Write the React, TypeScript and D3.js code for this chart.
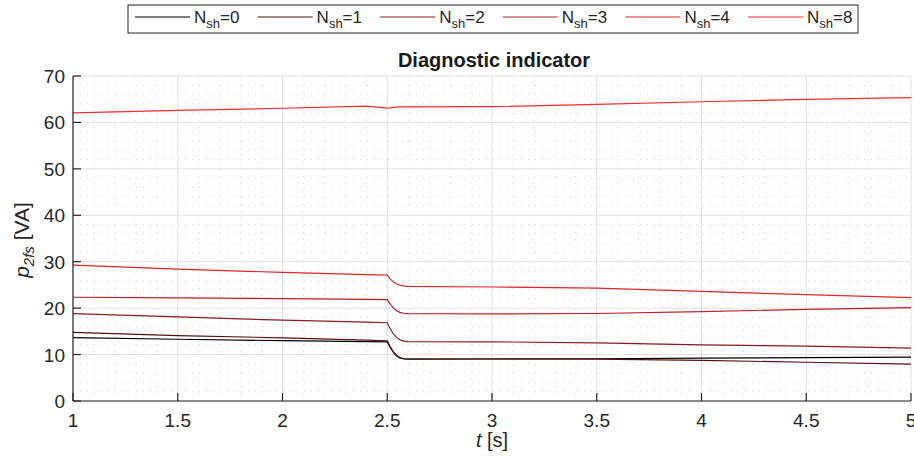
import React from 'react';
import * as d3 from 'd3';

// sample times [s]
const times = [1, 1.5, 2, 2.4, 2.5, 2.515, 2.53, 2.545, 2.56, 2.58, 2.6, 3, 3.5, 4, 4.5, 5];

const nsh0 = [13.65, 13.3, 13.0, 12.8, 12.75, 11.5, 10.4, 9.7, 9.3, 9.05, 9.0, 9.05, 9.1, 9.25, 9.35, 9.45];
const nsh1 = [14.8, 14.1, 13.6, 13.1, 12.95, 11.6, 10.5, 9.8, 9.35, 9.1, 9.05, 9.05, 9.0, 8.75, 8.35, 7.95];
const nsh2 = [18.8, 18.1, 17.4, 17.0, 16.85, 15.5, 14.4, 13.7, 13.2, 12.9, 12.8, 12.75, 12.5, 12.1, 11.8, 11.4];
const nsh3 = [22.35, 22.2, 22.05, 21.9, 21.85, 20.8, 20.0, 19.45, 19.1, 18.9, 18.8, 18.75, 18.85, 19.25, 19.75, 20.1];
const nsh4 = [29.25, 28.4, 27.7, 27.2, 27.1, 26.25, 25.65, 25.2, 24.95, 24.75, 24.7, 24.55, 24.3, 23.6, 22.9, 22.25];
const nsh8 = [62.05, 62.6, 63.05, 63.5, 63.1, 63.15, 63.25, 63.3, 63.33, 63.35, 63.35, 63.4, 63.9, 64.45, 64.95, 65.35];

const seriesLabels = ['0', '1', '2', '3', '4', '8'];
const seriesValues = [nsh0, nsh1, nsh2, nsh3, nsh4, nsh8];
const seriesColors = ['#000000', '#561010', '#8c1a1a', '#bd2020', '#e02626', '#ff2b2b'];

const xTicks = [1, 1.5, 2, 2.5, 3, 3.5, 4, 4.5, 5];
const yTicks = [0, 10, 20, 30, 40, 50, 60, 70];

const W = 914;
const H = 456;
const FONT = 'Arial, "Liberation Sans", Helvetica, sans-serif';

export default function App() {
  const x = d3.scaleLinear().domain([1, 5]).range([73, 911]);
  const y = d3.scaleLinear().domain([0, 70]).range([401, 76]);

  const line = d3.line<number>()
    .x((_, i) => x(times[i]))
    .y(d => y(d));

  const minorX = d3.range(10, 51).map(v => v / 10).filter(v => !xTicks.includes(v));
  const minorY = d3.range(0, 71, 2).filter(v => !yTicks.includes(v));

  const legendX = 128;
  const legendStep = 122.6;

  return (
    <svg width={W} height={H} style={{ position: 'absolute', left: 0, top: 0, background: '#fff' }}
      fontFamily={FONT}>
      {/* minor grid */}
      <g stroke="#d6d6d6" strokeWidth={1} strokeDasharray="1,6">
        {minorX.map(v => (
          <line key={'mx' + v} x1={x(v)} x2={x(v)} y1={y(0)} y2={y(70)} />
        ))}
        {minorY.map(v => (
          <line key={'my' + v} x1={x(1)} x2={x(5)} y1={y(v)} y2={y(v)} />
        ))}
      </g>
      {/* major grid */}
      <g stroke="#e0e0e0" strokeWidth={1}>
        {xTicks.map(v => (
          <line key={'gx' + v} x1={x(v)} x2={x(v)} y1={y(0)} y2={y(70)} />
        ))}
        {yTicks.map(v => (
          <line key={'gy' + v} x1={x(1)} x2={x(5)} y1={y(v)} y2={y(v)} />
        ))}
      </g>

      {/* data lines */}
      <g fill="none" strokeWidth={1.2}>
        {seriesValues.map((vals, i) => (
          <path key={i} d={line(vals) || ''} stroke={seriesColors[i]} />
        ))}
      </g>

      {/* axes */}
      <g stroke="#262626" strokeWidth={1.2}>
        <line x1={x(1)} x2={x(1)} y1={y(0)} y2={y(70)} />
        <line x1={x(1)} x2={x(5)} y1={y(0)} y2={y(0)} />
        {xTicks.map(v => (
          <line key={'tx' + v} x1={x(v)} x2={x(v)} y1={y(0)} y2={y(0) - 8} />
        ))}
        {yTicks.map(v => (
          <line key={'ty' + v} x1={x(1)} x2={x(1) + 8} y1={y(v)} y2={y(v)} />
        ))}
      </g>
      <g fill="#262626" fontSize={19}>
        {xTicks.map(v => (
          <text key={'lx' + v} x={x(v)} y={y(0) + 26} textAnchor="middle">{String(v)}</text>
        ))}
        {yTicks.map(v => (
          <text key={'ly' + v} x={x(1) - 8} y={y(v) + 7} textAnchor="end">{String(v)}</text>
        ))}
      </g>

      {/* title */}
      <text x={494} y={67} textAnchor="middle" fontSize={20} fontWeight="bold" fill="#1a1a1a">
        Diagnostic indicator
      </text>

      {/* axis labels */}
      <text x={492} y={447} textAnchor="middle" fontSize={20} fill="#262626">
        <tspan fontStyle="italic">t</tspan> [s]
      </text>
      <text transform="translate(29,240) rotate(-90)" textAnchor="middle" fontSize={21} fill="#262626">
        <tspan fontStyle="italic">p</tspan>
        <tspan fontStyle="italic" fontSize={15} dy={5}>2fs</tspan>
        <tspan dy={-5}> [VA]</tspan>
      </text>

      {/* legend */}
      <rect x={legendX} y={5} width={730} height={28} fill="#fff" stroke="#262626" strokeWidth={1} />
      {seriesLabels.map((lab, i) => {
        const lx = legendX + 7 + i * legendStep;
        return (
          <g key={'lg' + lab}>
            <line x1={lx} x2={lx + 55} y1={17} y2={17} stroke={seriesColors[i]} strokeWidth={1.2} />
            <text x={lx + 59} y={23} fontSize={17} fill="#262626">
              N<tspan fontSize={13} dy={5}>sh</tspan><tspan dy={-5}>={lab}</tspan>
            </text>
          </g>
        );
      })}
    </svg>
  );
}
